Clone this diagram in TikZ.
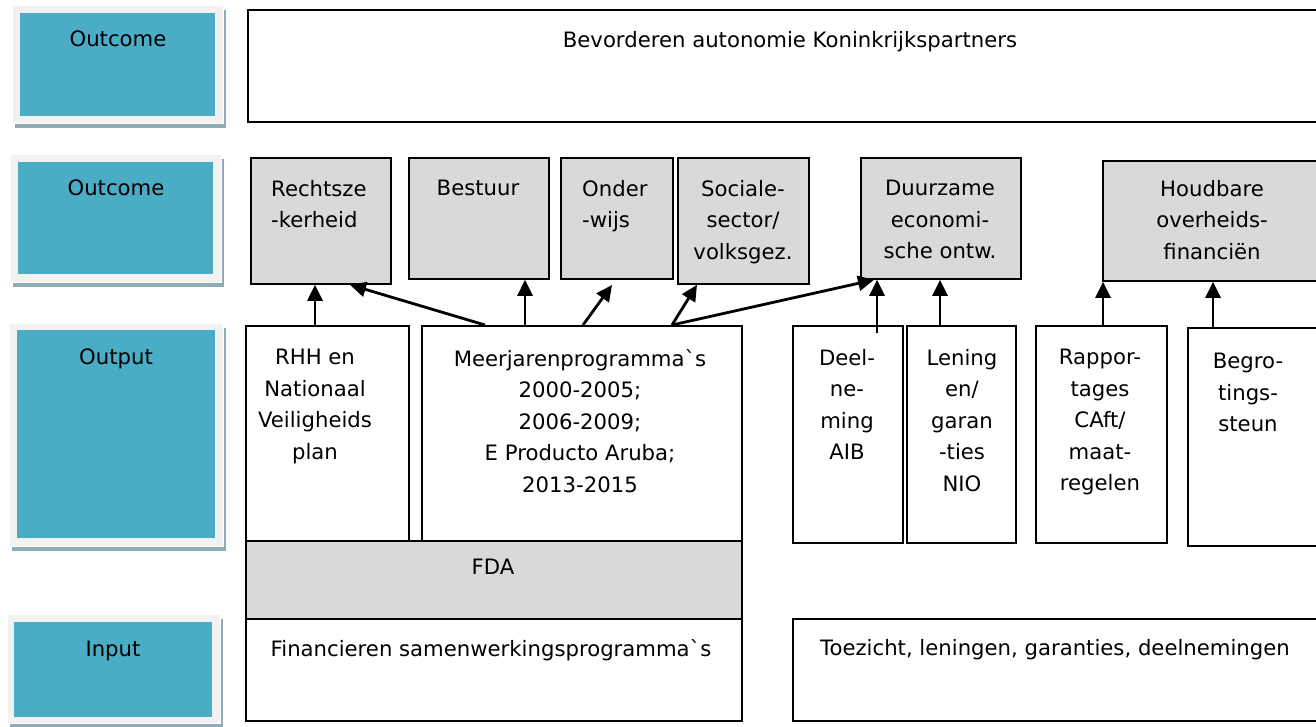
\documentclass[tikz,border=0pt]{standalone}
\usepackage{fontspec}
\newfontfamily\vfont{DejaVu Sans}
\usetikzlibrary{arrows.meta,shadows}
\definecolor{bluefill}{HTML}{4BACC6}
\definecolor{framefill}{HTML}{F2F2F2}
\definecolor{shadowc}{HTML}{8FABB5}
\definecolor{grayfill}{HTML}{D9D9D9}
\begin{document}
\begin{tikzpicture}[x=1pt,y=-1pt,
  wbox/.style={draw=black, line width=1.8pt, fill=white, rectangle, inner sep=0pt, anchor=north west},
  gbox/.style={wbox, fill=grayfill},
  framebox/.style={rectangle, inner sep=0pt, anchor=north west, fill=framefill, draw=white, line width=0.6pt,
     drop shadow={shadow xshift=3pt, shadow yshift=-5pt, fill=shadowc, opacity=1}},
  bluebox/.style={rectangle, inner sep=0pt, anchor=north west, fill=bluefill},
  txt/.style={font=\vfont\fontsize{21.2}{31.5}\selectfont, inner sep=0pt, align=center, anchor=north},
  ltxt/.style={txt, align=left, anchor=north west},
  arr/.style={line width=2.8pt, -{Triangle[length=16pt,width=15pt]}}]
\clip (0,0) rectangle (1316,726);
\useasboundingbox (0,0) rectangle (1316,726);

% left label boxes
\node[framebox, minimum width=211, minimum height=118] (f1) at (12,5) {};
\node[bluebox, minimum width=195, minimum height=103] (b1) at (20,13) {};
\node[txt] (l1) at (118,31) {Outcome};
\node[framebox, minimum width=211, minimum height=128] (f2) at (10,154) {};
\node[bluebox, minimum width=195, minimum height=112] (b2) at (18,162) {};
\node[txt] (l2) at (116,180) {Outcome};
\node[framebox, minimum width=214, minimum height=223] (f3) at (9,323) {};
\node[bluebox, minimum width=198, minimum height=208] (b3) at (17,330) {};
\node[txt] (l3) at (116,349) {Output};
\node[framebox, minimum width=213, minimum height=109] (f4) at (7,614) {};
\node[bluebox, minimum width=198, minimum height=95] (b4) at (14,622) {};
\node[txt] (l4) at (113,641) {Input};

% top box
\node[wbox, minimum width=1090, minimum height=112] (top) at (247,9) {};
\node[txt] (ttop) at (790,31) {Bevorderen autonomie Koninkrijkspartners};

% outcome row
\node[gbox, minimum width=140, minimum height=126] (rz) at (250,157) {};
\node[ltxt] (trz) at (271,180) {Rechtsze\\-kerheid};
\node[gbox, minimum width=140, minimum height=121] (bs) at (408,157) {};
\node[txt] (tbs) at (478,180) {Bestuur};
\node[gbox, minimum width=112, minimum height=121] (ow) at (560,157) {};
\node[ltxt] (tow) at (582,180) {Onder\\-wijs};
\node[gbox, minimum width=131, minimum height=126] (sc) at (677,157) {};
\node[txt] (tsc) at (743,180) {Sociale-\\sector/\\volksgez.};
\node[gbox, minimum width=160, minimum height=121] (dz) at (860,157) {};
\node[txt] (tdz) at (940,180) {Duurzame\\economi-\\sche ontw.};
\node[gbox, minimum width=230, minimum height=120] (hb) at (1102,160) {};
\node[txt] (thb) at (1212,180) {Houdbare\\overheids-\\financiën};

% output row
\node[wbox, minimum width=163, minimum height=215] (rhh) at (245,325) {};
\node[txt] (trhh) at (315,349) {RHH en\\Nationaal\\Veiligheids\\plan};
\node[wbox, minimum width=320, minimum height=215] (mj) at (421,325) {};
\node[txt] (tmj) at (580,349) {Meerjarenprogramma`s\\2000-2005;\\2006-2009;\\E Producto Aruba;\\2013-2015};
\node[gbox, minimum width=496, minimum height=78] (fda) at (245,540) {};
\node[txt] (tfda) at (493,559) {FDA};
\node[wbox, minimum width=496, minimum height=102] (fin) at (245,618) {};
\node[txt] (tfin) at (491,639) {Financieren samenwerkingsprogramma`s};

\node[wbox, minimum width=110, minimum height=217] (dl) at (792,325) {};
\node[txt] (tdl) at (847,349) {Deel-\\ne-\\ming\\AIB};
\node[wbox, minimum width=109, minimum height=217] (ln) at (906,325) {};
\node[txt] (tln) at (962,349) {Lening\\en/\\garan\\-ties\\NIO};
\node[wbox, minimum width=131, minimum height=217] (rp) at (1035,325) {};
\node[txt] (trp) at (1100,349) {Rappor-\\tages\\CAft/\\maat-\\regelen};
\node[wbox, minimum width=140, minimum height=218] (bg) at (1187,327) {};
\node[txt] (tbg) at (1248,353) {Begro-\\tings-\\steun};
\node[wbox, minimum width=540, minimum height=102] (tz) at (792,618) {};
\node[txt] (ttz) at (1055,639) {Toezicht, leningen, garanties, deelnemingen};

% arrows
\coordinate (owtip) at (612,285);
\draw[arr] (315,0 |- rhh.north) -- (315,0 |- rz.south);
\draw[arr] (485,0 |- mj.north) -- (350,0 |- rz.south);
\draw[arr] (525,0 |- mj.north) -- (525,0 |- bs.south);
\draw[arr] (583,0 |- mj.north) -- (owtip);
\draw[arr] (672,0 |- mj.north) -- (697,0 |- sc.south);
\draw[arr] (672,0 |- mj.north) -- (874,0 |- dz.south);
\draw[arr] (877,333) -- (877,0 |- dz.south);
\draw[arr] (940,0 |- ln.north) -- (940,0 |- dz.south);
\draw[arr] (1103,0 |- rp.north) -- (1103,0 |- hb.south);
\draw[arr] (1213,0 |- bg.north) -- (1213,0 |- hb.south);
\end{tikzpicture}
\end{document}
